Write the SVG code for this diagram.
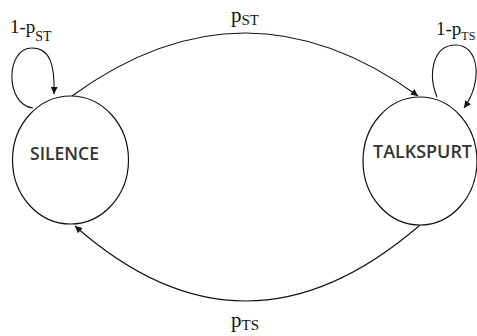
<svg xmlns="http://www.w3.org/2000/svg" width="477" height="336" viewBox="0 0 477 336">
<style>
.node{fill:#fff;stroke:#111;stroke-width:1.2}
.edge{fill:none;stroke:#111;stroke-width:1.1}
.lbl{font-family:"Liberation Serif","Times New Roman",serif;fill:#111}
.name{font-family:"Open Sans","Liberation Sans",sans-serif;fill:#333;font-weight:600}
</style>
<defs>
<marker id="arr" viewBox="0 0 10 10" refX="10" refY="5" markerWidth="9" markerHeight="7" markerUnits="userSpaceOnUse" orient="auto-start-reverse">
<path d="M0,0 L10,5 L0,10 z" fill="#111"/>
</marker>
</defs>
<rect width="477" height="336" fill="#fff"/>
<g id="connectors">
<path class="edge" d="M72,96 Q245,-30 418,96" marker-end="url(#arr)"/>
<path class="edge" d="M420,225 Q245,376.5 75,226" marker-end="url(#arr)"/>
<path class="edge" d="M33,108 C5,105 5,48 32,48 C50,48 55,65 54,94" marker-end="url(#arr)"/>
<path class="edge" d="M437,97 C428,75 432,45 456,45 C478,45 484,80 464,108" marker-end="url(#arr)"/>
</g>
<g id="silence">
<ellipse class="node" cx="70.5" cy="160" rx="58" ry="64"/>
<text class="name" x="30" y="160" font-size="18" textLength="69" lengthAdjust="spacingAndGlyphs">SILENCE</text>
</g>
<g id="talkspurt">
<ellipse class="node" cx="420" cy="161" rx="57" ry="64"/>
<text class="name" x="373" y="158" font-size="18" textLength="99" lengthAdjust="spacingAndGlyphs">TALKSPURT</text>
</g>
<g id="labels">
<text class="lbl" x="231" y="22" font-size="21">p<tspan font-size="15" dy="3">ST</tspan></text>
<text class="lbl" x="231" y="327" font-size="21">p<tspan font-size="15" dy="3">TS</tspan></text>
<text class="lbl" x="10" y="33" font-size="19">1-p<tspan font-size="14" dy="8">ST</tspan></text>
<text class="lbl" x="436" y="35" font-size="19">1-p<tspan font-size="12" dy="5">TS</tspan></text>
</g>
</svg>
